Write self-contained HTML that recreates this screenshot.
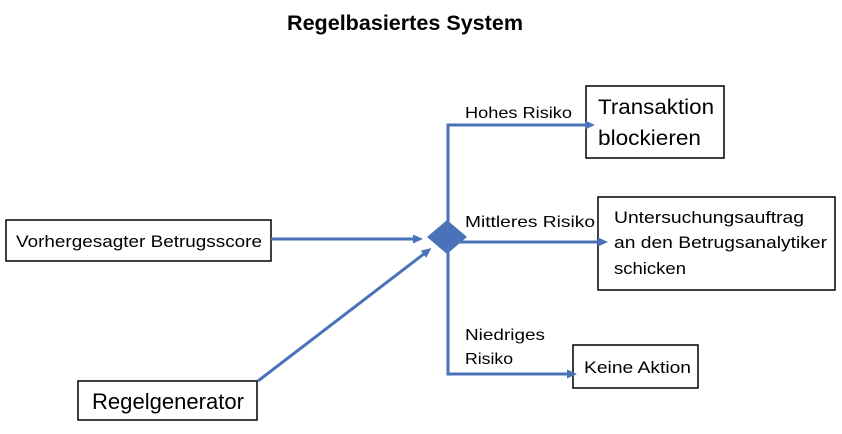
<!DOCTYPE html>
<html><head><meta charset="utf-8"><style>
body{margin:0;background:#fff}
svg{display:block}
text{font-family:"Liberation Sans",sans-serif;fill:#000}
</style></head><body>
<svg width="842" height="434" viewBox="0 0 842 434" xmlns="http://www.w3.org/2000/svg">
<defs><marker id="a" markerWidth="10" markerHeight="10" refX="7" refY="5" orient="auto" markerUnits="userSpaceOnUse"><path d="M0,0.5 L10,5 L0,9.5 z" fill="#4a72b8"/></marker></defs>
<text x="405" y="30" text-anchor="middle" font-size="21" font-weight="bold" textLength="236" lengthAdjust="spacingAndGlyphs">Regelbasiertes System</text>
<g fill="#fff" stroke="#000" stroke-width="1.5">
<rect x="6" y="220" width="265" height="41"/>
<rect x="78" y="381" width="179" height="39"/>
<rect x="586" y="86" width="138" height="72"/>
<rect x="598" y="197" width="237" height="93"/>
<rect x="573" y="345" width="125" height="43"/>
</g>
<g stroke="#4a72b8" stroke-width="3" fill="none">
<line x1="271" y1="239" x2="420" y2="239" marker-end="url(#a)"/>
<line x1="258" y1="381" x2="429" y2="250" marker-end="url(#a)"/>
<polyline points="448,237 448,125 592,125" marker-end="url(#a)"/>
<polyline points="448,237 448,374 574,374" marker-end="url(#a)"/>
<line x1="448" y1="242" x2="605" y2="242" marker-end="url(#a)"/>
</g>
<polygon points="447,220 467,237 447,254 427,237" fill="#4a72b8"/>
<text x="16" y="247" font-size="17" textLength="246" lengthAdjust="spacingAndGlyphs">Vorhergesagter Betrugsscore</text>
<text x="92" y="409" font-size="22" textLength="152" lengthAdjust="spacingAndGlyphs">Regelgenerator</text>
<text x="598" y="114" font-size="21" textLength="116" lengthAdjust="spacingAndGlyphs">Transaktion</text>
<text x="598" y="145" font-size="21" textLength="103" lengthAdjust="spacingAndGlyphs">blockieren</text>
<text x="614" y="223" font-size="17" textLength="190" lengthAdjust="spacingAndGlyphs">Untersuchungsauftrag</text>
<text x="614" y="248" font-size="17" textLength="213" lengthAdjust="spacingAndGlyphs">an den Betrugsanalytiker</text>
<text x="614" y="274" font-size="17" textLength="72" lengthAdjust="spacingAndGlyphs">schicken</text>
<text x="584" y="373" font-size="17" textLength="107" lengthAdjust="spacingAndGlyphs">Keine Aktion</text>
<text x="465" y="118" font-size="16" textLength="107" lengthAdjust="spacingAndGlyphs">Hohes Risiko</text>
<text x="465" y="227" font-size="16" textLength="130" lengthAdjust="spacingAndGlyphs">Mittleres Risiko</text>
<text x="465" y="340" font-size="16" textLength="80" lengthAdjust="spacingAndGlyphs">Niedriges</text>
<text x="465" y="364" font-size="16" textLength="48" lengthAdjust="spacingAndGlyphs">Risiko</text>
</svg>
</body></html>
